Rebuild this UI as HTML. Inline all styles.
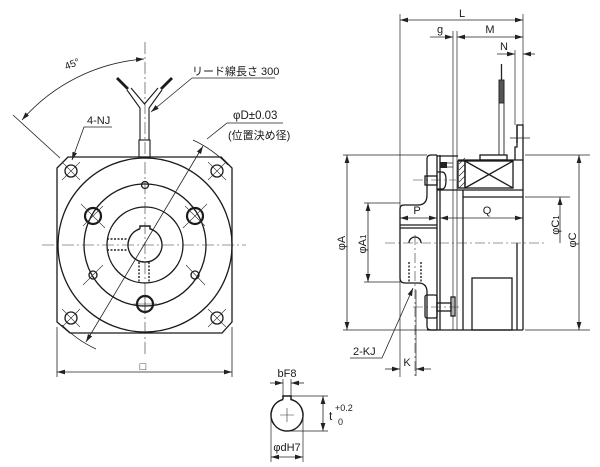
<!DOCTYPE html>
<html><head><meta charset="utf-8"><style>
html,body{margin:0;padding:0;background:#fff;}
svg{display:block;}
text{font-family:"Liberation Sans","Noto Sans CJK JP",sans-serif;fill:#1a1a1a;}
</style></head><body>
<svg width="600" height="467" viewBox="0 0 600 467" xmlns="http://www.w3.org/2000/svg">
<defs>
<marker id="a" viewBox="0 0 10 6" refX="10" refY="3" markerWidth="8" markerHeight="5" markerUnits="userSpaceOnUse" orient="auto-start-reverse"><path d="M0,0 L10,3 L0,6 Z" fill="#222"/></marker>
</defs>

<!-- ============ FRONT VIEW ============ -->
<g stroke="#1a1a1a" fill="none" stroke-width="1.3">
<path d="M68,157 H221 L232,168 V322 L222,333 H70 L57,322 V168 Z"/>
<circle cx="145" cy="245" r="87"/>
<circle cx="145" cy="245" r="61"/>
<circle cx="145" cy="245" r="38"/>
<path d="M140,228.8 V226 H150 V228.8 A17 17 0 1 1 140 228.8" stroke-width="1.4"/>
<circle cx="93" cy="216" r="8" stroke-width="2.2"/>
<circle cx="195" cy="216" r="8" stroke-width="2.2"/>
<circle cx="145" cy="304" r="8" stroke-width="2.2"/>
<circle cx="71" cy="171" r="6"/>
<circle cx="217" cy="171" r="6"/>
<circle cx="71" cy="318" r="6"/>
<circle cx="217" cy="318" r="6"/>
<circle cx="145" cy="185" r="3.5"/>
<circle cx="93" cy="275" r="4"/>
<circle cx="195" cy="275" r="4"/>
</g>
<g stroke="#333" stroke-width="0.6" fill="none">
<path d="M81,204 L105,228 M83,226 L103,206"/>
<path d="M183,228 L207,204 M185,206 L205,226"/>
<path d="M133,304 H157 M145,294 V314"/>
<path d="M62,162 L80,180 M62,180 L80,162"/>
<path d="M208,162 L226,180 M208,180 L226,162"/>
<path d="M62,327 L80,309 M62,309 L80,327"/>
<path d="M208,327 L226,309 M208,309 L226,327"/>
<path d="M83,285 L103,265 M186,265 L205,285"/>
</g>
<g stroke="#222" stroke-width="1.4" stroke-dasharray="2,1.5" fill="none">
<path d="M107,239 H128 M107,250 H128"/>
<path d="M139,262 V283 M149,262 V283"/>
</g>
<g stroke="#333" stroke-width="0.6" stroke-dasharray="12,3,2,3" fill="none">
<path d="M145,42 V356"/>
<path d="M42,245 H246"/>
</g>
<g stroke="#1a1a1a" fill="none" stroke-width="1.1">
<rect x="139" y="140" width="11" height="17"/>
<path d="M140,140 V108 L127,90"/>
<path d="M149,140 V108 L162,90"/>
<path d="M131,88 L144.5,104 L158,88"/>
<path d="M128,89 L117,78 M161,89 L172,78" stroke-width="2.8"/>
</g>
<g stroke="#222" fill="none" stroke-width="0.8">
<path d="M13,115 L60,158"/>
<path d="M144,59 A180 180 0 0 0 22,120" marker-start="url(#a)" marker-end="url(#a)"/>
</g>
<text x="64" y="68" font-size="10" transform="rotate(-22 70 63)">45°</text>
<g stroke="#222" fill="none" stroke-width="0.8">
<path d="M203,146 L86,342" marker-start="url(#a)" marker-end="url(#a)"/>
<path d="M193,140 A116 116 0 0 1 228,165"/>
<path d="M62,325 A116 116 0 0 0 96,349"/>
<path d="M207,139 L227,123 H283"/>
<path d="M192,78 H275"/>
<path d="M192,78 L151,112" marker-end="url(#a)"/>
<path d="M112,127 H84 L72,160" marker-end="url(#a)"/>
</g>
<text x="233" y="119" font-size="11.5">φD±0.03</text>
<text x="228" y="139" font-size="11">(位置決め径)</text>
<text x="192" y="75" font-size="11">リード線長さ  300</text>
<text x="87" y="124" font-size="11">4-NJ</text>
<g stroke="#222" fill="none" stroke-width="0.8">
<path d="M57,327 V377 M232,327 V377"/>
<path d="M57,372 H232" marker-start="url(#a)" marker-end="url(#a)"/>
</g>
<text x="143" y="370" font-size="11" text-anchor="middle">□</text>

<!-- ============ SIDE VIEW ============ -->
<g stroke="#222" fill="none" stroke-width="0.7">
<path d="M400,14 V377"/>
<path d="M523,14 V125"/>
<path d="M453,31 V330 M457,31 V330"/>
<path d="M515,50 V125"/>
<path d="M416,290 V376"/>
</g>
<g stroke="#222" fill="none" stroke-width="0.8">
<path d="M400,20 H523" marker-start="url(#a)" marker-end="url(#a)"/>
<path d="M430,37 H453" marker-end="url(#a)"/>
<path d="M457,37 H523" marker-start="url(#a)" marker-end="url(#a)"/>
<path d="M497,54 H515" marker-end="url(#a)"/>
<path d="M535,54 H523" marker-end="url(#a)"/>
</g>
<text x="462" y="17" font-size="11" text-anchor="middle">L</text>
<text x="440" y="33" font-size="11" text-anchor="middle">g</text>
<text x="490" y="33" font-size="11" text-anchor="middle">M</text>
<text x="504" y="50" font-size="11" text-anchor="middle">N</text>

<g stroke="#222" fill="none" stroke-width="0.9">
<path d="M499,80 V155 M504,80 V155"/>
<path d="M501.5,64 V80" stroke-width="1.3"/>
<rect x="499" y="80" width="5" height="23" fill="#555"/>
</g>

<g stroke="#1a1a1a" fill="none" stroke-width="1.3">
<path d="M437,155 H431 Q427,155 427,159 V195 Q427,205 418,205 H404 Q400,205 400,209 V278 Q400,283 405,283 H418 Q427,283 427,292 V326 Q427,330 431,330 H437"/>
<path d="M437,155 V330 M440,155 V330"/>
<path d="M437,156 H458"/>
<path d="M437,190 H458"/>
<path d="M427,330 H523"/>
<path d="M463,190 V330"/>
<path d="M458,160 H523"/>
<rect x="480" y="155" width="27" height="5"/>
<path d="M515,160 V147 H517 V125 H523 V330"/>
<path d="M517,125 V143"/>
<path d="M458,190 H523"/>
<path d="M463,197 H523"/>
<path d="M517,243 V330"/>
<rect x="472" y="278" width="40" height="52"/>
<rect x="458" y="161" width="7" height="27"/>
<rect x="465" y="161" width="48" height="27"/>
<path d="M465,161 L513,188 M465,188 L513,161"/>
<path d="M400,225 H437 M400,228 H437"/>
<path d="M409,243 A6 6 0 0 1 421,243"/>
<rect x="425" y="176" width="12" height="9"/>
<path d="M437,172 H442 Q446,172 446,180 Q446,189 442,189 H437"/>
<rect x="425" y="295" width="12" height="23" rx="2"/>
<rect x="437" y="303" width="14" height="8"/>
<rect x="451" y="297" width="4" height="19"/>
</g>
<g stroke="#222" stroke-width="0.7">
<path d="M459,164 L465,158 M459,170 L465,164 M459,176 L465,170 M459,182 L465,176 M459,188 L465,182"/>
<path d="M510,138 H530"/>
</g>
<rect x="440" y="162" width="7" height="6" fill="#222"/>
<path d="M447,163 H453 M447,167 H453" stroke="#222" stroke-width="0.8"/>
<g stroke="#222" stroke-width="1.4" stroke-dasharray="2,1.5" fill="none">
<path d="M409,262 V283 M421,262 V283"/>
</g>
<g stroke="#333" stroke-width="0.6" stroke-dasharray="10,3,2,3" fill="none">
<path d="M385,243 H545"/>
<path d="M413,180 H456"/>
<path d="M413,307 H460"/>
<path d="M415,235 V376"/>
</g>

<g stroke="#222" fill="none" stroke-width="0.7">
<path d="M343,155 H427 M343,330 H427"/>
<path d="M364,203 H400 M364,282 H400"/>
<path d="M525,155 H590 M525,330 H590"/>
<path d="M525,197 H570"/>
</g>
<g stroke="#222" fill="none" stroke-width="0.8">
<path d="M347,155 V330" marker-start="url(#a)" marker-end="url(#a)"/>
<path d="M368,203 V282" marker-start="url(#a)" marker-end="url(#a)"/>
<path d="M579,155 V330" marker-start="url(#a)" marker-end="url(#a)"/>
<path d="M560,243 V197" marker-end="url(#a)"/>
<path d="M400,218 H437" marker-start="url(#a)" marker-end="url(#a)"/>
<path d="M440,218 H523" marker-start="url(#a)" marker-end="url(#a)"/>
<path d="M350,358 H382 L413,288" marker-end="url(#a)"/>
<path d="M385,369 H400" marker-end="url(#a)"/>
<path d="M431,369 H416" marker-end="url(#a)"/>
</g>
<text x="0" y="0" font-size="11" text-anchor="middle" transform="translate(345,243) rotate(-90)">φA</text>
<text x="0" y="0" font-size="11" text-anchor="middle" transform="translate(366,244) rotate(-90)">φA<tspan font-size="8">1</tspan></text>
<text x="0" y="0" font-size="11" text-anchor="middle" transform="translate(576,240) rotate(-90)">φC</text>
<text x="0" y="0" font-size="11" text-anchor="middle" transform="translate(559,225) rotate(-90)">φC<tspan font-size="8">1</tspan></text>
<text x="417" y="214" font-size="11" text-anchor="middle">P</text>
<text x="487" y="214" font-size="11" text-anchor="middle">Q</text>
<text x="353" y="355" font-size="11">2-KJ</text>
<text x="407" y="366" font-size="11" text-anchor="middle">K</text>

<!-- ============ KEY DETAIL ============ -->
<g stroke="#1a1a1a" fill="none" stroke-width="1.5">
<path d="M283,399.5 V396 H291 V399.5 A16 16 0 1 1 283 399.5"/>
</g>
<g stroke="#333" stroke-width="0.6">
<path d="M280,415 H294 M287,408 V422"/>
</g>
<g stroke="#222" fill="none" stroke-width="0.7">
<path d="M283,379 V396 M291,379 V396"/>
<path d="M291,396 H328 M290,431 H328"/>
<path d="M271,415 V462 M303,415 V462"/>
</g>
<g stroke="#222" fill="none" stroke-width="0.8">
<path d="M270,383 H283" marker-end="url(#a)"/>
<path d="M304,383 H291" marker-end="url(#a)"/>
<path d="M323,396 V431" marker-start="url(#a)" marker-end="url(#a)"/>
<path d="M271,457 H303" marker-start="url(#a)" marker-end="url(#a)"/>
</g>
<text x="287" y="377" font-size="11" text-anchor="middle">bF8</text>
<text x="329" y="420" font-size="12">t</text>
<text x="335" y="411" font-size="9">+0.2</text>
<text x="338" y="425" font-size="9">0</text>
<text x="287" y="451" font-size="11" text-anchor="middle">φdH7</text>
</svg>
</body></html>
